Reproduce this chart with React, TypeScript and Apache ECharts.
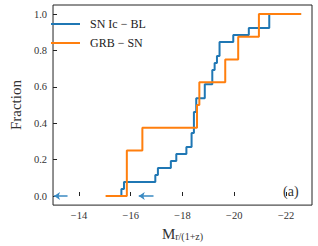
import React, { useEffect, useRef } from "react";
import * as echarts from "echarts";

const blueName = "SN Ic − BL";
const orangeName = "GRB − SN";

const blueX = [-15.3, -15.64, -15.74, -16.95, -17.05, -17.55, -17.76, -18.15, -18.35, -18.44, -18.53, -18.86, -19.15, -19.24, -19.33, -19.43, -19.96, -20.56, -21.35, -22.58];
const blueY = [0, 0.038, 0.077, 0.115, 0.154, 0.192, 0.231, 0.269, 0.346, 0.462, 0.538, 0.615, 0.692, 0.731, 0.769, 0.846, 0.885, 0.923, 1.0, 1.0];

const orangeX = [-15.03, -15.85, -16.45, -18.56, -18.65, -19.65, -20.15, -20.95, -22.58];
const orangeY = [0, 0.25, 0.375, 0.5, 0.625, 0.75, 0.875, 1.0, 1.0];

const arrowTailX = [-13.56, -16.88];
const arrowHeadX = [-13.04, -16.31];
const arrowY = [0, 0];

const xTicks = [-14, -16, -18, -20, -22];
const yTicks = [0, 0.2, 0.4, 0.6, 0.8, 1.0];

const SERIF = "'Liberation Serif', 'DejaVu Serif', serif";
const BLUE = "#1f77b4";
const ORANGE = "#ff7f0e";

const fmtNum = (v: number, d: number) => (v < 0 ? "\u2212" + Math.abs(v).toFixed(d) : v.toFixed(d));

export default function App() {
  const ref = useRef<HTMLDivElement>(null);
  useEffect(() => {
    if (!ref.current) return;
    const chart = echarts.init(ref.current, null, { renderer: "svg" });
    const blueData = blueX.map((x, i) => [x, blueY[i]]);
    const orangeData = orangeX.map((x, i) => [x, orangeY[i]]);
    const arrowData = arrowTailX.map((t, i) => ({ coords: [[t, arrowY[i]], [arrowHeadX[i], arrowY[i]]] }));
    chart.setOption({
      animation: false,
      backgroundColor: "#ffffff",
      grid: {
        left: 39,
        right: 6,
        top: 5,
        bottom: 37,
        show: true,
        borderColor: "#222",
        borderWidth: 1,
        backgroundColor: "transparent",
      },
      legend: {
        data: [
          { name: blueName, icon: "rect", itemStyle: { color: BLUE } },
          { name: orangeName, icon: "rect", itemStyle: { color: ORANGE } },
        ],
        orient: "vertical",
        left: 51,
        top: 18,
        padding: 0,
        itemWidth: 29,
        itemHeight: 2,
        itemGap: 7,
        textStyle: { fontFamily: SERIF, fontSize: 12, color: "#222", padding: [0, 0, 0, 5] },
      },
      xAxis: {
        type: "value",
        min: -23,
        max: -13,
        inverse: true,
        axisLine: { show: false },
        splitLine: { show: false },
        axisTick: { show: true, inside: true, length: 4, lineStyle: { color: "#222" }, customValues: xTicks },
        axisLabel: {
          customValues: xTicks,
          margin: 5,
          fontFamily: SERIF,
          fontSize: 10.5,
          color: "#333",
          formatter: (v: number) => fmtNum(v, 0),
        },
        name: "{m|M}{s|r/(1+z)}",
        nameLocation: "middle",
        nameGap: 12,
        nameTextStyle: {
          rich: {
            m: { fontFamily: SERIF, fontSize: 15, lineHeight: 16, color: "#333", verticalAlign: "bottom" },
            s: { fontFamily: SERIF, fontSize: 10, lineHeight: 8, color: "#333", verticalAlign: "bottom" },
          },
        },
      },
      yAxis: {
        type: "value",
        min: -0.05,
        max: 1.05,
        axisLine: { show: false },
        splitLine: { show: false },
        axisTick: { show: true, inside: true, length: 4, lineStyle: { color: "#222" }, customValues: yTicks },
        axisLabel: {
          customValues: yTicks,
          margin: 6,
          fontFamily: SERIF,
          fontSize: 10.5,
          color: "#333",
          formatter: (v: number) => fmtNum(v, 1),
        },
        name: "Fraction",
        nameLocation: "middle",
        nameGap: 21,
        nameTextStyle: { fontFamily: SERIF, fontSize: 15, color: "#333" },
      },
      graphic: [
        {
          type: "text",
          left: 283,
          top: 184,
          style: { text: "(a)", fontFamily: SERIF, fontSize: 14, fill: "#333" },
        },
      ],
      series: [
        {
          name: blueName,
          type: "line",
          step: "end",
          data: blueData,
          showSymbol: false,
          symbol: "none",
          lineStyle: { color: BLUE, width: 2 },
          itemStyle: { color: BLUE },
          z: 2,
        },
        {
          name: orangeName,
          type: "line",
          step: "end",
          data: orangeData,
          showSymbol: false,
          symbol: "none",
          lineStyle: { color: ORANGE, width: 2 },
          itemStyle: { color: ORANGE },
          z: 3,
        },
        {
          name: "arrows",
          type: "lines",
          coordinateSystem: "cartesian2d",
          symbol: ["none", "arrow"],
          symbolSize: 6,
          data: arrowData,
          lineStyle: { color: "#3a8ac2", width: 1.5, opacity: 1 },
          z: 4,
        },
      ],
    });
    return () => chart.dispose();
  }, []);
  return <div ref={ref} style={{ position: "fixed", left: 0, top: 0, width: 318, height: 246 }} />;
}
